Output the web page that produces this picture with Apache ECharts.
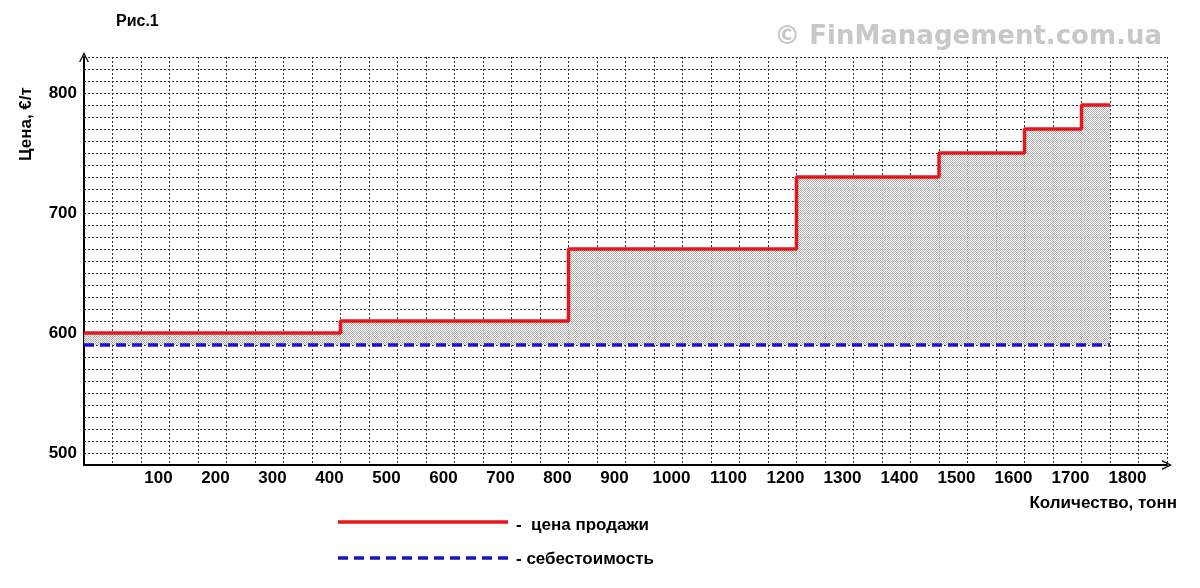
<!DOCTYPE html>
<html>
<head>
<meta charset="utf-8">
<script src="https://cdn.jsdelivr.net/npm/echarts@6/dist/echarts.min.js"></script>
<style>
html,body{margin:0;padding:0;background:#fff;}
#c{width:1200px;height:588px;}
</style>
</head>
<body>
<div id="c"></div>
<script>
// ---- data ----
const stepStarts = [0, 400, 800, 1200, 1450, 1600, 1700]; // tonnes where each price level begins
const prices     = [600, 610, 670, 730, 750, 770, 790];   // €/t
const endQty     = 1750;                                  // last tonne
const costValue  = 590;                                   // себестоимость, €/т
const xTickLabels = [100,200,300,400,500,600,700,800,900,1000,1100,1200,1300,1400,1500,1600,1700,1800];
const yTickLabels = [500,600,700,800];
const xMin = -50, xMax = 1850, yMin = 490, yMax = 830;

// ---- build series data ----
const priceData = stepStarts.map((s, i) => [i === 0 ? xMin : s, prices[i]]);
priceData.push([endQty, prices[prices.length - 1]]);
const costData = [[xMin, costValue], [endQty, costValue]];

// dotted fill pattern
const pc = document.createElement('canvas');
pc.width = 2; pc.height = 2;
const g = pc.getContext('2d');
g.fillStyle = '#ffffff'; g.fillRect(0,0,2,2);
g.fillStyle = '#a0a0a0'; g.fillRect(0,0,1,1); g.fillRect(1,1,1,1);

const chart = echarts.init(document.getElementById('c'));
const FONT = '"Liberation Sans", Arial, sans-serif';
const chevron = 'path://M0 10 L5 0 L10 10 L8.6 10 L5 2.8 L1.4 10 Z';

chart.setOption({
  animation: false,
  backgroundColor: '#fff',
  grid: { left: 84, right: 33, top: 57, bottom: 123, containLabel: false },
  xAxis: {
    type: 'value', min: xMin, max: xMax, interval: 50,
    axisLine: { show: true, onZero: false, lineStyle: { color: '#000', width: 2 }, symbol: ['none', chevron], symbolSize: [10, 10] },
    axisTick: { show: false },
    splitLine: { show: true, lineStyle: { color: '#333', width: 1, type: [2, 2] } },
    axisLabel: {
      margin: 5, fontFamily: FONT, fontWeight: 'bold', fontSize: 17, color: '#000',
      padding: [0, 22, 0, 0],
      formatter: v => xTickLabels.indexOf(v) >= 0 ? String(v) : ''
    }
  },
  yAxis: {
    type: 'value', min: yMin, max: yMax, interval: 10,
    axisLine: { show: true, onZero: false, lineStyle: { color: '#000', width: 2 }, symbol: ['none', chevron], symbolSize: [10, 10] },
    axisTick: { show: false },
    splitLine: { show: true, lineStyle: { color: '#333', width: 1, type: [2, 2] } },
    axisLabel: {
      margin: 7, fontFamily: FONT, fontWeight: 'bold', fontSize: 17, color: '#000',
      formatter: v => yTickLabels.indexOf(v) >= 0 ? String(v) : ''
    }
  },
  series: [
    {
      name: 'цена продажи', type: 'line', step: 'end', data: priceData,
      symbol: 'none', z: 3,
      lineStyle: { color: '#e8161c', width: 3.5 },
      areaStyle: { origin: costValue, color: { image: pc, repeat: 'repeat' }, opacity: 0.85 }
    },
    {
      name: 'себестоимость', type: 'line', data: costData,
      symbol: 'none', z: 4,
      lineStyle: { color: '#1515c8', width: 3.5, type: [10, 6] }
    }
  ],
  graphic: [
    { type: 'text', left: 116, top: 14, style: { text: 'Рис.1', font: 'bold 16px ' + FONT, fill: '#000' } },
    { type: 'text', right: 38, top: 24, style: { text: '© FinManagement.com.ua', font: 'bold 26px "DejaVu Sans", Verdana, sans-serif', fill: '#c8c8c8' } },
    { type: 'text', x: 26, y: 124, rotation: Math.PI / 2,
      style: { text: 'Цена, €/т', font: 'bold 17px ' + FONT, fill: '#000', align: 'center', verticalAlign: 'middle' } },
    { type: 'text', right: 23, top: 495, style: { text: 'Количество, тонн', font: 'bold 17px ' + FONT, fill: '#000' } },
    { type: 'line', shape: { x1: 338, y1: 522, x2: 508, y2: 522 }, style: { stroke: '#e8161c', lineWidth: 3.5 } },
    { type: 'text', left: 516, top: 517, style: { text: '-  цена продажи', font: 'bold 17px ' + FONT, fill: '#000' } },
    { type: 'line', shape: { x1: 338, y1: 558, x2: 508, y2: 558 }, style: { stroke: '#1515c8', lineWidth: 3.5, lineDash: [10, 6] } },
    { type: 'text', left: 516, top: 551, style: { text: '- себестоимость', font: 'bold 17px ' + FONT, fill: '#000' } }
  ]
});
</script>
</body>
</html>
